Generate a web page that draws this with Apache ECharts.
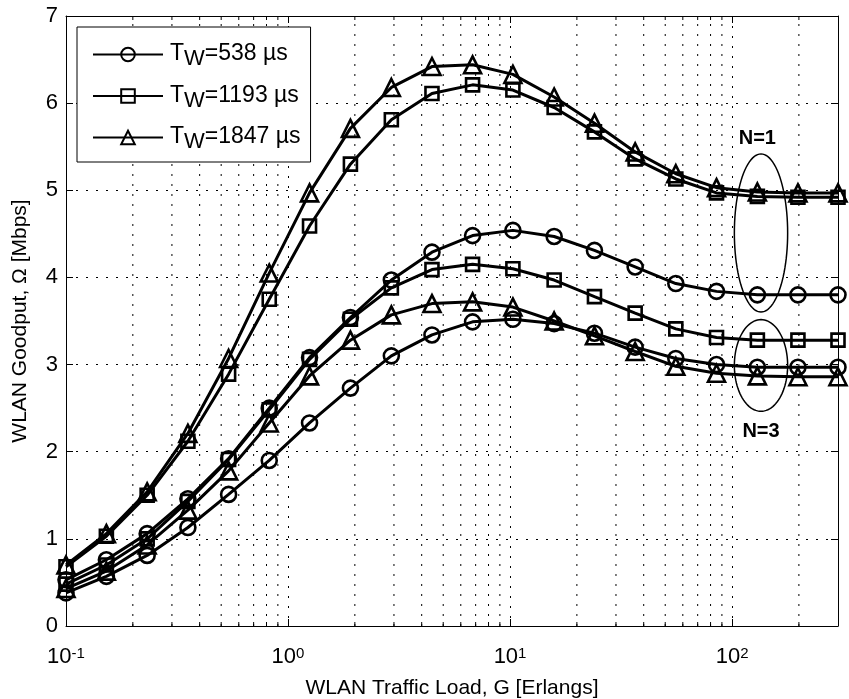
<!DOCTYPE html>
<html><head><meta charset="utf-8">
<script src="https://cdn.jsdelivr.net/npm/echarts@6/dist/echarts.min.js"></script>
<style>html,body{margin:0;padding:0;background:#fff}#c{width:849px;height:699px}</style>
</head><body><div id="c"></div>
<script>
const FONT = '"Liberation Sans", Arial, Helvetica, sans-serif';

// Traffic load G (Erlangs) at which the curves are sampled
const loads = [0.1, 0.152, 0.232, 0.354, 0.54, 0.823, 1.25, 1.91, 2.92, 4.45, 6.78, 10.3, 15.8, 24, 36.6, 55.8, 85.1, 130, 198, 300];

// T_W values (µs)
const twValues = [538, 1193, 1847];

// N = 1 curves
const n1_tw538  = [0.53,0.76,1.06,1.46,1.92,2.50,3.08,3.54,3.97,4.29,4.48,4.54,4.47,4.31,4.12,3.93,3.84,3.80,3.80,3.80];
const n1_tw1193 = [0.68,1.03,1.50,2.12,2.89,3.75,4.59,5.30,5.81,6.11,6.21,6.15,5.95,5.67,5.36,5.13,4.97,4.93,4.92,4.92];
const n1_tw1847 = [0.70,1.06,1.54,2.21,3.07,4.05,4.97,5.71,6.18,6.42,6.44,6.33,6.07,5.77,5.44,5.19,5.03,4.98,4.97,4.97];
// N = 3 curves
const n3_tw538  = [0.38,0.57,0.81,1.13,1.51,1.90,2.33,2.73,3.10,3.34,3.49,3.52,3.47,3.36,3.20,3.07,3.00,2.97,2.97,2.97];
const n3_tw1193 = [0.48,0.70,1.00,1.43,1.91,2.48,3.06,3.52,3.88,4.09,4.15,4.10,3.97,3.78,3.59,3.41,3.31,3.28,3.28,3.28];
const n3_tw1847 = [0.43,0.63,0.93,1.33,1.78,2.33,2.87,3.28,3.57,3.70,3.72,3.66,3.50,3.33,3.15,2.98,2.90,2.87,2.86,2.86];

// axis ranges / ticks
const xMin = 0.1, xMax = 300;
const yMin = 0, yMax = 7, yStep = 1;
const decades = [0.1, 1, 10, 100];
const minorMultipliers = [2, 3, 4, 5, 6, 7, 8, 9];

// annotation ellipses (data units) and their labels
const ellipseX = [135, 135];
const ellipseY = [4.51, 2.99];
const ellipseHalfDecades = [0.12, 0.12];
const ellipseHalfY = [0.907, 0.526];
const groupLabels = ['N=1', 'N=3'];
const groupLabelX = [130, 135];
const groupLabelY = [5.60, 2.23];

const minorTicks = [];
decades.forEach(d => minorMultipliers.forEach(m => { const v = +(m * d).toPrecision(6); if (v < xMax) minorTicks.push(v); }));

const twName = tw => 'T_W=' + tw + ' µs';
const symbols = ['circle', 'rect', 'triangle'];
const symbolSizes = [15, 13, 17];
const groups = [[n1_tw538, n1_tw1193, n1_tw1847], [n3_tw538, n3_tw1193, n3_tw1847]];

const lineSeries = [];
groups.forEach((g, gi) => g.forEach((arr, i) => {
  lineSeries.push({
    type: 'line', name: twName(twValues[i]), xAxisIndex: 0, yAxisIndex: 0,
    data: loads.map((x, k) => [x, arr[k]]),
    symbol: symbols[i], symbolSize: symbolSizes[i], showSymbol: true,
    lineStyle: { color: '#000', width: 3 },
    itemStyle: { color: 'rgba(0,0,0,0)', borderColor: '#000', borderWidth: 2.6 },
    emphasis: { disabled: true }, z: 5
  });
}));

const chart = echarts.init(document.getElementById('c'), null, { renderer: 'canvas' });
const axisLineStyle = { color: '#000', width: 1 };
const gridDot = { color: '#000', width: 1, type: [2, 8] };

chart.setOption({
  animation: false,
  backgroundColor: '#fff',
  grid: { left: 66, right: 11, top: 16, bottom: 73, containLabel: false, outerBoundsMode: 'none' },
  legend: {
    data: twValues.map(twName), orient: 'vertical', left: 77, top: 27,
    itemWidth: 70, itemHeight: 17, itemGap: 10.5,
    padding: [12, 10, 9, 15],
    borderColor: '#000', borderWidth: 1, borderRadius: 0, backgroundColor: '#fff',
    selectedMode: false,
    formatter: name => { const rest = name.replace('T_W', ''); return '{g|}{t|T}{s|W}{t|' + rest + '}'; },
    textStyle: {
      color: '#000', fontFamily: FONT, fontSize: 23,
      rich: {
        g: { width: 2, lineHeight: 24 },
        t: { fontSize: 23, fontFamily: FONT, color: '#000', lineHeight: 24, verticalAlign: 'top' },
        s: { fontSize: 22, fontFamily: FONT, color: '#000', lineHeight: 24, padding: [9, 0, 0, 0] }
      }
    }
  },
  xAxis: [{
    type: 'log', logBase: 10, min: xMin, max: xMax, position: 'bottom', gridIndex: 0,
    axisLine: { show: true, onZero: false, lineStyle: axisLineStyle },
    axisTick: { show: true, inside: true, length: 7, lineStyle: axisLineStyle },
    splitLine: { show: true, lineStyle: gridDot },
    axisLabel: {
      show: true, margin: 20, showMaxLabel: false, color: '#000',
      formatter: v => { const e = Math.log10(v); const r = Math.round(e); if (Math.abs(e - r) > 1e-6) return ''; return '{b|10}{s|' + r + '}'; },
      rich: {
        b: { fontSize: 22, fontFamily: FONT, color: '#000', lineHeight: 22, verticalAlign: 'bottom' },
        s: { fontSize: 15, fontFamily: FONT, color: '#000', lineHeight: 16, verticalAlign: 'top', padding: [0, 0, 12, 0] }
      }
    },
    name: 'WLAN Traffic Load, G [Erlangs]', nameLocation: 'middle', nameGap: 43,
    nameTextStyle: { color: '#000', fontSize: 21, fontFamily: FONT }
  }, {
    type: 'log', logBase: 10, min: xMin, max: xMax, position: 'top', gridIndex: 0,
    axisLine: { show: true, onZero: false, lineStyle: axisLineStyle },
    axisTick: { show: true, inside: true, length: 7, lineStyle: axisLineStyle },
    axisLabel: { show: false }, splitLine: { show: false }
  }],
  yAxis: [{
    type: 'value', min: yMin, max: yMax, interval: yStep, position: 'left',
    axisLine: { show: true, onZero: false, lineStyle: axisLineStyle },
    axisTick: { show: true, inside: true, length: 7, lineStyle: axisLineStyle },
    splitLine: { show: true, lineStyle: gridDot },
    axisLabel: { color: '#000', fontSize: 22, fontFamily: FONT, margin: 8 },
    name: 'WLAN Goodput, Ω [Mbps]', nameLocation: 'middle', nameGap: 35,
    nameTextStyle: { color: '#000', fontSize: 21, fontFamily: FONT }
  }, {
    type: 'value', min: yMin, max: yMax, interval: yStep, position: 'right',
    axisLine: { show: true, onZero: false, lineStyle: axisLineStyle },
    axisTick: { show: true, inside: true, length: 7, lineStyle: axisLineStyle },
    axisLabel: { show: false }, splitLine: { show: false }
  }],
  series: [{
    type: 'custom', name: 'minorGrid', coordinateSystem: 'cartesian2d', xAxisIndex: 0, yAxisIndex: 0,
    silent: true, z: 1,
    data: minorTicks.map(v => [v, yMin]), encode: { x: 0, y: 1 },
    renderItem: (params, api) => {
      const x = api.value(0);
      const p0 = api.coord([x, yMin]), p1 = api.coord([x, yMax]);
      return { type: 'group', children: [
        { type: 'line', shape: { x1: p0[0], y1: p0[1], x2: p1[0], y2: p1[1] }, style: { stroke: '#000', lineWidth: 1, lineDash: [2, 8] } },
        { type: 'line', shape: { x1: p0[0], y1: p0[1], x2: p0[0], y2: p0[1] - 4 }, style: { stroke: '#000', lineWidth: 1 } },
        { type: 'line', shape: { x1: p1[0], y1: p1[1], x2: p1[0], y2: p1[1] + 4 }, style: { stroke: '#000', lineWidth: 1 } }
      ] };
    }
  }, {
    type: 'custom', name: 'groups', coordinateSystem: 'cartesian2d', xAxisIndex: 0, yAxisIndex: 0,
    silent: true, z: 6,
    data: ellipseX.map((x, i) => [x, ellipseY[i], i]), encode: { x: 0, y: 1 },
    renderItem: (params, api) => {
      const i = api.value(2);
      const cx = ellipseX[i], cy = ellipseY[i];
      const c = api.coord([cx, cy]);
      const f = Math.pow(10, ellipseHalfDecades[i]);
      const rx = (api.coord([cx * f, cy])[0] - api.coord([cx / f, cy])[0]) / 2;
      const ry = (api.coord([cx, cy - ellipseHalfY[i]])[1] - api.coord([cx, cy + ellipseHalfY[i]])[1]) / 2;
      const pts = [];
      for (let k = 0; k < 96; k++) { const t = k / 96 * Math.PI * 2; pts.push([c[0] + rx * Math.cos(t), c[1] + ry * Math.sin(t)]); }
      const lp = api.coord([groupLabelX[i], groupLabelY[i]]);
      return { type: 'group', children: [
        { type: 'polygon', shape: { points: pts }, style: { fill: 'none', stroke: '#000', lineWidth: 1.5 } },
        { type: 'text', x: lp[0], y: lp[1], style: { text: groupLabels[i], fill: '#000', fontSize: 20, fontWeight: 'bold', fontFamily: FONT, align: 'center', verticalAlign: 'middle' } }
      ] };
    }
  }].concat(lineSeries)
});
</script></body></html>
